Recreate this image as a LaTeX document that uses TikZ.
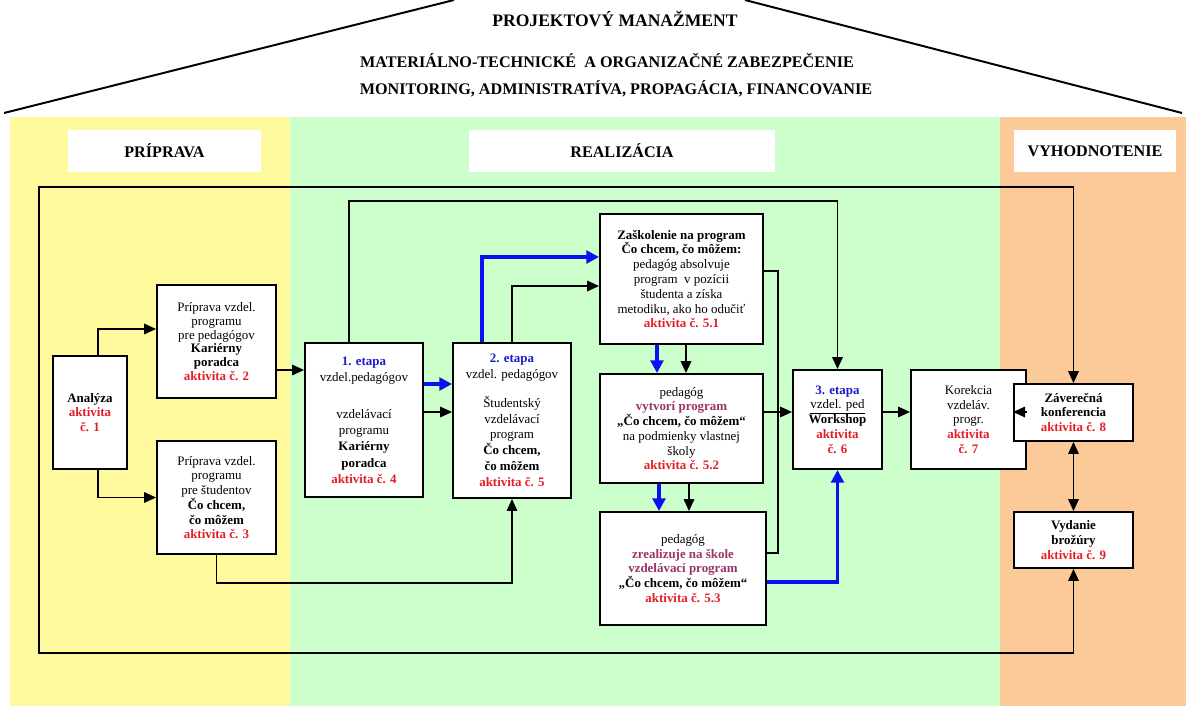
\documentclass[tikz,border=0pt]{standalone}
\usepackage{fontspec}
\setmainfont{Liberation Serif}
\usepackage{xcolor}
\usepackage{tikz}
\usetikzlibrary{arrows.meta}
\usetikzlibrary{positioning}

\definecolor{pripravaYellow}{HTML}{FFFA9E}
\definecolor{realizaciaGreen}{HTML}{CCFFCC}
\definecolor{vyhodnotenieOrange}{HTML}{FBCA98}
\definecolor{aktRed}{HTML}{E41E26}
\definecolor{etapaBlue}{HTML}{1A1AD0}
\definecolor{progPurple}{HTML}{993366}
\definecolor{arrowBlue}{HTML}{0A12F2}

\newcommand{\aktiv}[1]{\textcolor{aktRed}{\textbf{#1}}}
\newcommand{\etapaTxt}[1]{\textcolor{etapaBlue}{\textbf{#1}}}
\newcommand{\progTxt}[1]{\textcolor{progPurple}{\textbf{#1}}}

\tikzset{
	aktbox/.style={draw, line width=1.3pt, fill=white, align=center, inner sep=1pt, font=\fontsize{9.2}{10.5}\selectfont},
	phasebox/.style={fill=white, inner sep=0pt, font=\fontsize{11.5}{13}\selectfont\bfseries},
	headline/.style={inner sep=0pt, font=\fontsize{11.5}{13}\selectfont\bfseries},
	conn/.style={line width=1.1pt, -{Triangle[length=8.5pt,width=7.5pt]}},
	both/.style={line width=1.1pt, {Triangle[length=8.5pt,width=7.5pt]}-{Triangle[length=8.5pt,width=7.5pt]}},
	blueconn/.style={line width=2.8pt, arrowBlue, -{Triangle[length=9pt,width=9pt]}},
	roof/.style={line width=1.4pt},
}

\begin{document}
\begin{tikzpicture}[x=0.025cm, y=-0.025cm]
	\useasboundingbox (0,0) rectangle (1186,706);
	\fill[pripravaYellow] (10,117) rectangle (290,706);
	\fill[realizaciaGreen] (290,117) rectangle (1000,706);
	\fill[vyhodnotenieOrange] (1000,117) rectangle (1186,706);
	\draw[roof] (4,113) -- (454,0);
	\draw[roof] (745,0) -- (1182,113);

	\node[headline, font=\fontsize{12.5}{14}\selectfont\bfseries] (proj) at (615,19) {PROJEKTOVÝ MANAŽMENT};
	\node[headline] (mat) at (607,61) {MATERIÁLNO-TECHNICKÉ \ A ORGANIZAČNÉ ZABEZPEČENIE};
	\node[headline] (mon) at (616,89) {MONITORING, ADMINISTRATÍVA, PROPAGÁCIA, FINANCOVANIE};

	\node[phasebox, minimum width=4.825cm, minimum height=1.05cm] (hprip) at (164.5,151) {PRÍPRAVA};
	\node[phasebox, minimum width=7.65cm, minimum height=1.05cm] (hreal) at (622,151) {REALIZÁCIA};
	\node[phasebox, minimum width=4.05cm, minimum height=1.05cm] (hvyh) at (1095,151) {VYHODNOTENIE};

	\coordinate (frameTL) at (39,187);
	\coordinate (frameBL) at (39,653);

	\node[aktbox, minimum width=1.85cm, minimum height=2.825cm] (b1) at (90,412.5) {\textbf{Analýza}\\\aktiv{aktivita}\\\aktiv{č. 1}};
	\node[aktbox, minimum width=2.975cm, minimum height=2.825cm, font=\fontsize{9.2}{9.8}\selectfont] (b2) at (216.5,341.5) {Príprava vzdel.\\programu\\pre pedagógov\\\textbf{Kariérny}\\\textbf{poradca}\\\aktiv{aktivita č. 2}};
	\node[aktbox, minimum width=2.975cm, minimum height=2.825cm] (b3) at (216.5,497.5) {Príprava vzdel.\\programu\\pre študentov\\\textbf{Čo chcem,}\\\textbf{čo môžem}\\\aktiv{aktivita č. 3}};
	\node[aktbox, minimum width=2.95cm, minimum height=3.85cm, font=\fontsize{9.2}{11.5}\selectfont] (b4) at (364,420) {\etapaTxt{1. etapa}\\vzdel.pedagógov\\[15pt]vzdelávací\\programu\\\textbf{Kariérny}\\\textbf{poradca}\\\aktiv{aktivita č. 4}};
	\node[aktbox, minimum width=2.95cm, minimum height=3.875cm, font=\fontsize{9.2}{11.3}\selectfont] (b5) at (512,420.5) {\etapaTxt{2. etapa}\\vzdel. pedagógov\\[9pt]Študentský\\vzdelávací\\program\\\textbf{Čo chcem,}\\\textbf{čo môžem}\\\aktiv{aktivita č. 5}};
	\node[aktbox, minimum width=4.075cm, minimum height=3.25cm] (b51) at (681.5,279) {\textbf{Zaškolenie na program}\\\textbf{Čo chcem, čo môžem:}\\pedagóg absolvuje\\program \ v pozícii\\študenta a získa\\metodiku, ako ho odučiť\\\aktiv{aktivita č. 5.1}};
	\node[aktbox, minimum width=4.075cm, minimum height=2.725cm] (b52) at (681.5,428.5) {pedagóg\\\progTxt{vytvorí program}\\\textbf{„Čo chcem, čo môžem“}\\na podmienky vlastnej\\školy\\\aktiv{aktivita č. 5.2}};
	\node[aktbox, minimum width=4.15cm, minimum height=2.825cm] (b53) at (683,568.5) {pedagóg\\\progTxt{zrealizuje na škole}\\\progTxt{vzdelávací program}\\\textbf{„Čo chcem, čo môžem“}\\\aktiv{aktivita č. 5.3}};
	\node[aktbox, minimum width=2.225cm, minimum height=2.475cm] (b6) at (837.5,419.5) {\etapaTxt{3. etapa}\\\underline{vzdel. ped}\\\textbf{Workshop}\\\aktiv{aktivita}\\\aktiv{č. 6}};
	\node[aktbox, minimum width=2.875cm, minimum height=2.475cm] (b7) at (968.5,419.5) {Korekcia\\vzdeláv.\\progr.\\\aktiv{aktivita}\\\aktiv{č. 7}};
	\node[aktbox, minimum width=2.975cm, minimum height=1.425cm] (b8) at (1073.5,412.5) {\textbf{Záverečná}\\\textbf{konferencia}\\\aktiv{aktivita č. 8}};
	\node[aktbox, minimum width=2.975cm, minimum height=1.4cm] (b9) at (1073.5,540) {\textbf{Vydanie}\\\textbf{brožúry}\\\aktiv{aktivita č. 9}};

	\draw[both] (b8.north) |- (frameTL) -- (frameBL) -| (b9.south);
	\draw[both] (b8.south) -- (b9.north);
	\draw[conn] (b1.north -| 98,0) |- (b2.west |- 0,329);
	\draw[conn] (b1.south -| 98,0) |- (b3.west);
	\draw[conn] (b2.east |- 0,370) -- (b4.west |- 0,370);
	\draw[conn] (b3.south) -- (b3.south |- 0,583) -| (b5.south);
	\draw[conn] (b4.north -| 349,0) -- (349,201) -| (b6.north);
	\draw[blueconn] (b4.east |- 0,384) -- (b5.west |- 0,384);
	\draw[conn] (b4.east |- 0,412) -- (b5.west |- 0,412);
	\draw[blueconn] (b5.north -| 482,0) |- (b51.west |- 0,257);
	\draw[conn] (b5.north) |- (b51.west |- 0,286);
	\draw[blueconn] (b51.south -| 657,0) -- (b52.north -| 657,0);
	\draw[conn] (b51.south -| 686,0) -- (b52.north -| 686,0);
	\draw[blueconn] (b52.south -| 659,0) -- (b53.north -| 659,0);
	\draw[conn] (b52.south -| 689,0) -- (b53.north -| 689,0);
	\draw[line width=1.1pt] (b51.east |- 0,271) -| (778,553) -- (b53.east |- 0,553);
	\draw[conn] (b52.east |- 0,412) -- (b6.west |- 0,412);
	\draw[blueconn] (b53.east |- 0,582) -| (b6.south);
	\draw[conn] (b6.east |- 0,412) -- (b7.west |- 0,412);
	\draw[conn] (b7.east |- 0,412) -- (b8.west |- 0,412);
\end{tikzpicture}
\end{document}
